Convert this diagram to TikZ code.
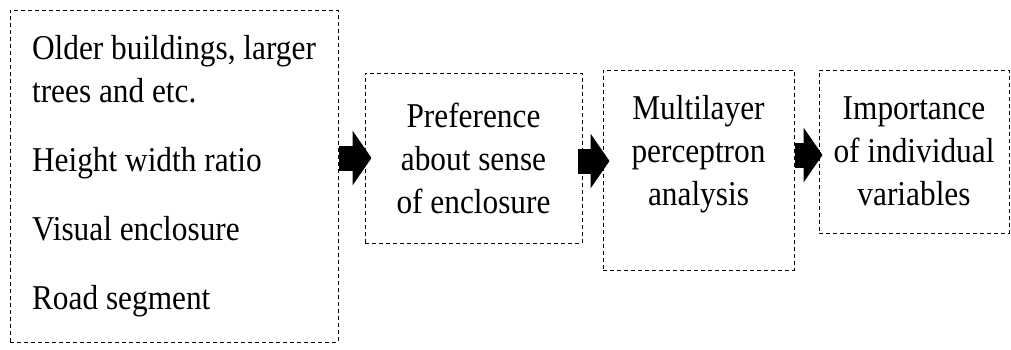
\documentclass[tikz,border=0pt]{standalone}
\usepackage{fontspec}
\setmainfont{Liberation Serif}[FakeStretch=0.9]
\usetikzlibrary{arrows.meta}

\begin{document}
\begin{tikzpicture}[x=0.5pt, y=-0.5pt,
    box/.style={draw, line width=0.5pt, dash pattern=on 2pt off 1.5pt, inner sep=0pt},
    fat/.style={line width=12.5pt, -{Triangle[length=9.5pt, width=27pt]}}]
            \useasboundingbox (0,0) rectangle (1011,349);
            \fontsize{17.4pt}{21.5pt}\selectfont

            \node[box, minimum width=164pt, minimum height=166pt, align=left] (factors) at (174,176)
                {Older buildings, larger\\trees and etc.\\[13pt]Height width ratio\\[13pt]Visual enclosure\\[13pt]Road segment};
            \node[box, minimum width=108.5pt, minimum height=85pt, align=center] (prefs) at (473.5,158)
                {Preference\\about sense\\of enclosure};
            \node[box, minimum width=95.5pt, minimum height=100pt, align=center, text depth=20pt] (mlp) at (698.5,170)
                {Multilayer\\perceptron\\analysis};
            \node[box, minimum width=95pt, minimum height=81.5pt, align=center] (importance) at (914,151.5)
                {Importance\\of individual\\variables};

            \draw[fat] (factors.east |- prefs.center) -- ([xshift=3.5pt]prefs.west);
            \draw[fat] ([xshift=-2.5pt, yshift=-1.5pt]prefs.east) -- ([xshift=3.5pt, yshift=-1.5pt]mlp.west |- prefs.east);
            \draw[fat] ([yshift=-1.75pt]mlp.east |- importance.west) -- ([xshift=2pt, yshift=-1.75pt]importance.west);
        \end{tikzpicture}
\end{document}
